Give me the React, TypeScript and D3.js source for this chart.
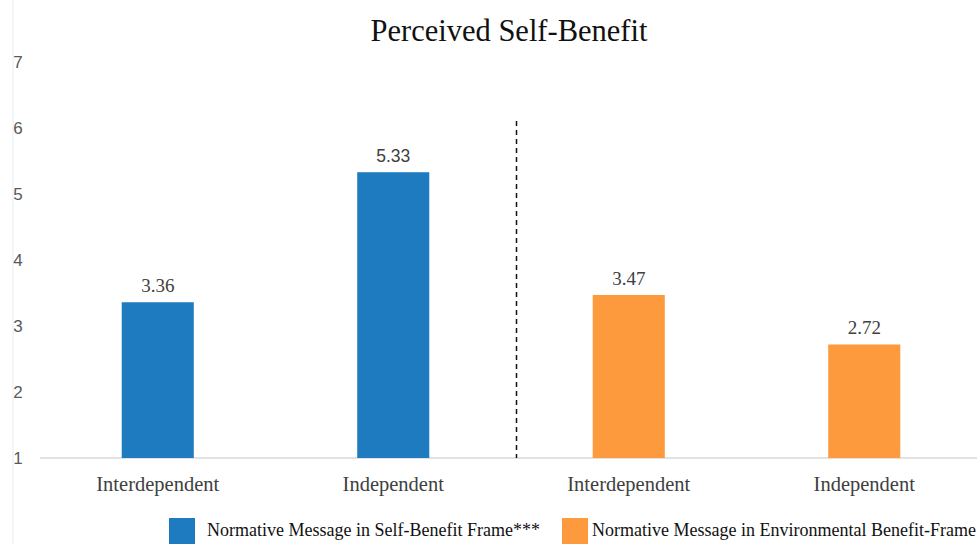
import React from "react";
import * as d3 from "d3";

const title = "Perceived Self-Benefit";
const categories = ["Interdependent", "Independent", "Interdependent", "Independent"];
const groups = [0, 0, 1, 1];
const values = [3.36, 5.33, 3.47, 2.72];
const valueLabels = ["3.36", "5.33", "3.47", "2.72"];
const seriesNames = [
  "Normative Message in Self-Benefit Frame***",
  "Normative Message in Environmental Benefit-Frame",
];
const seriesColors = ["#1f7bbf", "#fd9a3d"];
const yTicks = [1, 2, 3, 4, 5, 6, 7];

const W = 977;
const H = 544;

export default function App() {
  const keys = categories.map((_, i) => String(i));
  const x = d3
    .scaleBand<string>()
    .domain(keys)
    .range([40, 982])
    .paddingInner(0.694)
    .paddingOuter(0.347);
  const y = d3.scaleLinear().domain([1, 7]).range([458, 62]);
  const bw = x.bandwidth();
  const dividerX = ((x("1") as number) + bw + (x("2") as number)) / 2 + 5.5;
  const serif = "'Liberation Serif', 'DejaVu Serif', serif";
  const sans = "'Liberation Sans', Arial, sans-serif";

  return (
    <svg
      width={W}
      height={H}
      style={{ position: "fixed", left: 0, top: 0, background: "#fff" }}
    >
      <line x1={13} x2={13} y1={0} y2={H} stroke="#eef3f4" strokeWidth={1.5} />
      <text
        x={509}
        y={41}
        textAnchor="middle"
        fontFamily={serif}
        fontSize={30.5}
        fill="#111"
      >
        {title}
      </text>
      {yTicks.map((t) => (
        <text
          key={t}
          x={18}
          y={y(t) + 6}
          textAnchor="middle"
          fontFamily={sans}
          fontSize={17}
          fill="#595959"
        >
          {t}
        </text>
      ))}
      <line x1={40} x2={W} y1={y(1)} y2={y(1)} stroke="#d9d9d9" strokeWidth={1.5} />
      {values.map((v, i) => (
        <g key={i}>
          <rect
            x={x(String(i))}
            y={y(v)}
            width={bw}
            height={y(1) - y(v)}
            fill={seriesColors[groups[i]]}
          />
          <text
            x={(x(String(i)) as number) + bw / 2}
            y={y(v) - 10}
            textAnchor="middle"
            style={{ fontFamily: i === 1 ? sans : serif }}
            fontSize={i === 1 ? 17.5 : 19}
            fill="#404040"
          >
            {valueLabels[i]}
          </text>
          <text
            x={(x(String(i)) as number) + bw / 2}
            y={491}
            textAnchor="middle"
            style={{ fontFamily: serif }}
            fontSize={20.5}
            fill="#404040"
          >
            {categories[i]}
          </text>
        </g>
      ))}
      <line
        x1={dividerX}
        x2={dividerX}
        y1={121}
        y2={y(1)}
        stroke="#111"
        strokeWidth={1.5}
        strokeDasharray="5,4"
      />
      {seriesNames.map((name, i) => {
        const lx = i === 0 ? 169 : 562;
        const tx = i === 0 ? 207 : 592;
        return (
          <g key={name}>
            <rect x={lx} y={518} width={26} height={26} fill={seriesColors[i]} />
            <text
              x={tx}
              y={536}
              style={{ fontFamily: serif }}
              fontSize={18}
              fill="#111"
            >
              {name}
            </text>
          </g>
        );
      })}
    </svg>
  );
}
